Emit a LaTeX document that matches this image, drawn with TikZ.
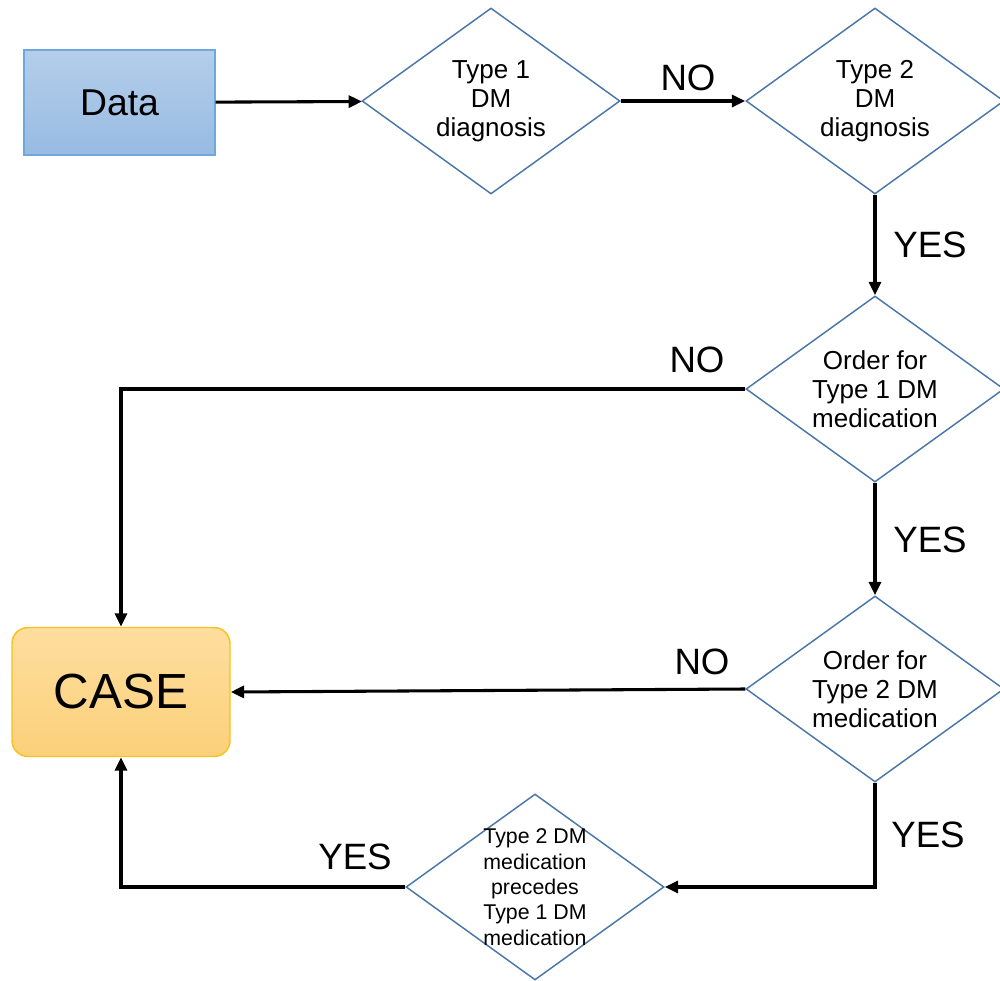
\documentclass[tikz,border=0pt]{standalone}
\usepackage{fontspec}
\setmainfont{Liberation Sans}
\usetikzlibrary{arrows.meta, shapes.geometric}
\definecolor{dline}{HTML}{4A76A8}
\definecolor{dataline}{HTML}{6FA8DC}
\definecolor{datatop}{HTML}{B4CEEA}
\definecolor{databot}{HTML}{98BBE3}
\definecolor{caseline}{HTML}{F7C21E}
\definecolor{casetop}{HTML}{FEDE9E}
\definecolor{casebot}{HTML}{FCD07A}
\tikzset{
  every picture/.style={line width=1.1pt},
  decision/.style={diamond, draw=dline, line width=1.1pt, fill=white, inner sep=0pt,
    minimum width=193.5pt, minimum height=139.5pt},
  dtext/.style={align=center, inner sep=0pt, font=\fontsize{19.5}{21.75}\selectfont},
  dsmall/.style={align=center, inner sep=0pt, font=\fontsize{16}{19}\selectfont},
  databox/.style={draw=dataline, top color=datatop, bottom color=databot, line width=1.1pt,
    minimum width=143.25pt, minimum height=78.75pt, font=\fontsize{28}{30}\selectfont},
  casebox/.style={draw=caseline, top color=casetop, bottom color=casebot, line width=1.1pt,
    rounded corners=12pt, minimum width=163.5pt, minimum height=96.75pt, font=\fontsize{37}{40}\selectfont},
  arrow/.style={-{Triangle[length=10pt, width=9pt]}, draw=black, line width=2.3pt},
  yn/.style={font=\fontsize{27.5}{30}\selectfont, inner sep=0pt},
}
\begin{document}
\begin{tikzpicture}[x=0.75pt, y=-0.75pt]
  \path[use as bounding box, clip] (0,0) rectangle (1000,981);
  % boxes
  \node[databox] (data) at (119.5,102.5) {Data};
  \node[casebox] (case) at (121,692) {CASE};
  % decisions
  \node[decision, label={[dtext]center:{Type 1\\DM\\diagnosis}}] (t1) at (491,101) {};
  \node[decision, label={[dtext]center:{Type 2\\DM\\diagnosis}}] (t2) at (875,101) {};
  \node[decision, label={[dtext]center:{Order for\\Type 1 DM\\medication}}] (o1) at (875,389) {};
  \node[decision, label={[dtext]center:{Order for\\Type 2 DM\\medication}}] (o2) at (875,689) {};
  \node[decision, label={[dsmall]center:{Type 2 DM\\medication\\precedes\\Type 1 DM\\medication}}] (pre) at (535,887) {};
  % connectors
  \draw[arrow] (data) -- (t1);
  \draw[arrow] (t1) -- (t2);
  \draw[arrow] (t2) -- (o1);
  \draw[arrow] (o1.west) -| (case.north);
  \draw[arrow] (o1) -- (o2);
  \draw[arrow] (o2.west) -- (case.east);
  \draw[arrow] (o2.south) |- (pre.east);
  \draw[arrow] (pre.west) -| (case.south);
  % answers
  \node[yn] (no1) at (688,78) {NO};
  \node[yn] (yes1) at (930,245) {YES};
  \node[yn] (no2) at (697,360) {NO};
  \node[yn] (yes2) at (930,540) {YES};
  \node[yn] (no3) at (702,662) {NO};
  \node[yn] (yes3) at (928,835) {YES};
  \node[yn] (yes4) at (355,857) {YES};
\end{tikzpicture}
\end{document}
